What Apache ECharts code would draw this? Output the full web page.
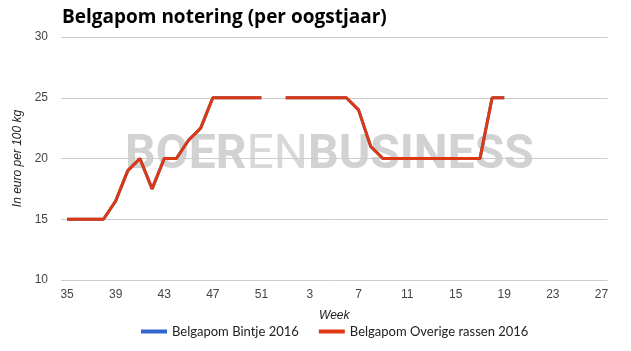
<!DOCTYPE html>
<html>
<head>
<meta charset="utf-8">
<script src="https://cdn.jsdelivr.net/npm/echarts@6/dist/echarts.min.js"></script>
<style>html,body{margin:0;padding:0;background:#fff}#c{width:631px;height:351px}</style>
</head>
<body>
<div id="c"></div>
<script>
var weeks = ['35','36','37','38','39','40','41','42','43','44','45','46','47','48','49','50','51','52',
  '1','2','3','4','5','6','7','8','9','10','11','12','13','14','15','16','17','18','19','20','21','22','23','24','25','26','27'];
var bintje = [15,15,15,15,16.5,19,20,17.5,20,20,21.5,22.5,25,25,25,25,25,null,
  25,25,25,25,25,25,24,21,20,20,20,20,20,20,20,20,20,25,25,null,null,null,null,null,null,null,null];
var overige = [15,15,15,15,16.5,19,20,17.5,20,20,21.5,22.5,25,25,25,25,25,null,
  25,25,25,25,25,25,24,21,20,20,20,20,20,20,20,20,20,25,25,null,null,null,null,null,null,null,null];
var seriesNames = ['Belgapom Bintje 2016', 'Belgapom Overige rassen 2016'];

var chart = echarts.init(document.getElementById('c'));
chart.setOption({
  animation: false,
  backgroundColor: '#fff',
  title: {
    text: 'Belgapom notering (per oogstjaar)',
    left: 57, top: 3,
    textStyle: {fontFamily: 'Open Sans', fontWeight: 'bold', fontSize: 19, color: '#000'}
  },
  graphic: [{
    type: 'text', left: 125, top: 132, z: 0, silent: true,
    style: {
      text: '{b|BOER}{l|EN}{b|BUSINESS}',
      rich: {
        b: {fontFamily: 'Roboto', fontWeight: 'bold', fontSize: 48, fill: '#d2d2d2'},
        l: {fontFamily: 'Roboto', fontWeight: 'normal', fontSize: 48, fill: '#d8d8d8'}
      }
    }
  }],
  legend: {
    left: 141, top: 325, padding: 0,
    icon: 'rect', itemWidth: 26, itemHeight: 4, itemGap: 20,
    textStyle: {fontFamily: 'Lato', fontSize: 13, color: '#222'},
    data: seriesNames
  },
  grid: {left: 61, right: 23.5, top: 37, bottom: 71, outerBoundsMode: 'none', containLabel: false},
  xAxis: {
    type: 'category', data: weeks, boundaryGap: true,
    name: 'Week', nameLocation: 'middle', nameGap: 30,
    nameTextStyle: {fontFamily: 'Liberation Sans', fontStyle: 'italic', fontSize: 12, color: '#222'},
    axisLine: {show: false}, axisTick: {show: false},
    axisLabel: {interval: 3, margin: 9, fontFamily: 'Liberation Sans', fontSize: 12, color: '#444'}
  },
  yAxis: {
    type: 'value', min: 10, max: 30, interval: 5,
    name: 'In euro per 100 kg', nameLocation: 'middle', nameGap: 37,
    nameTextStyle: {fontFamily: 'Liberation Sans', fontStyle: 'italic', fontSize: 12, color: '#222'},
    axisLine: {show: false}, axisTick: {show: false},
    axisLabel: {margin: 13, fontFamily: 'Liberation Sans', fontSize: 12, color: '#444'},
    splitLine: {lineStyle: {color: '#cccccc', width: 1}}
  },
  series: [
    {name: seriesNames[0], type: 'line', data: bintje, symbol: 'none', connectNulls: false, z: 3,
     lineStyle: {width: 3, color: '#3366cc'}, itemStyle: {color: '#3366cc'}},
    {name: seriesNames[1], type: 'line', data: overige, symbol: 'none', connectNulls: false, z: 4,
     lineStyle: {width: 3, color: '#dc3912'}, itemStyle: {color: '#dc3912'}}
  ]
});
</script>
</body>
</html>
